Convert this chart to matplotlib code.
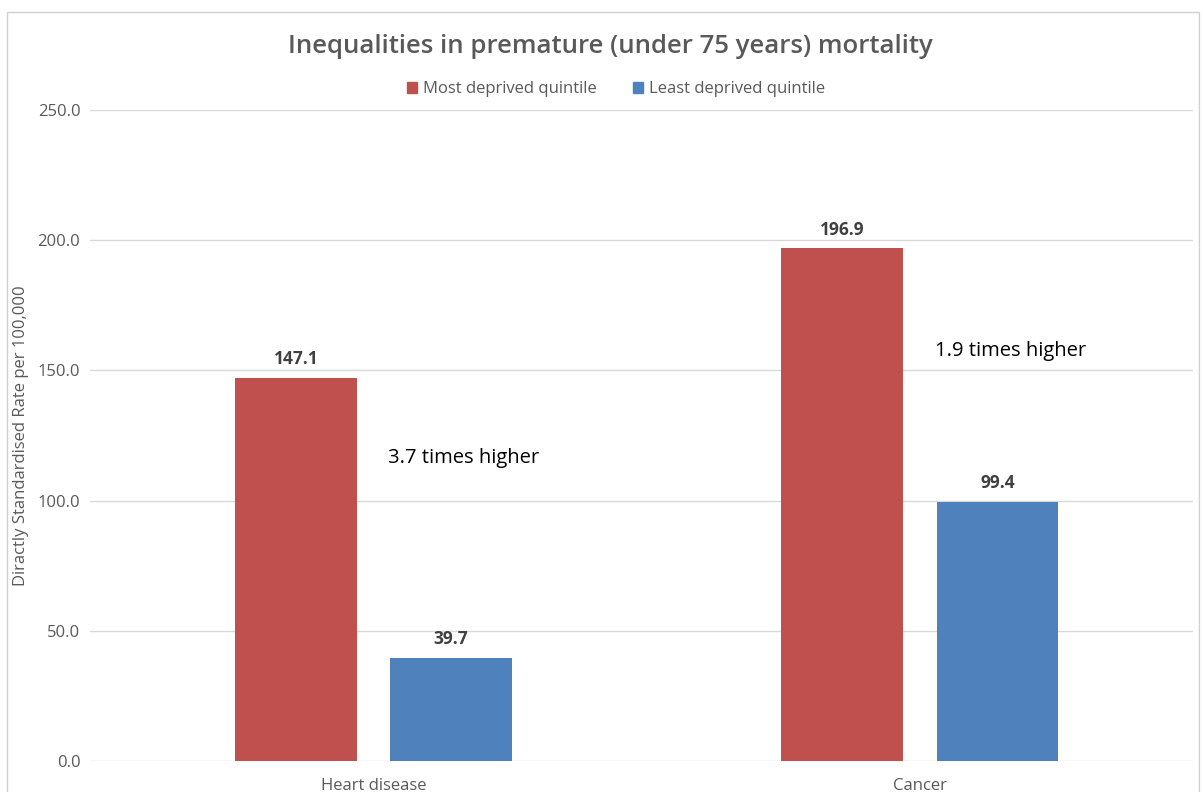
import matplotlib.pyplot as plt
from matplotlib.patches import Rectangle

categories = ["Heart disease", "Cancer"]
most_deprived = [147.1, 196.9]
least_deprived = [39.7, 99.4]
series_names = ["Most deprived quintile", "Least deprived quintile"]
ratio_notes = ["3.7 times higher", "1.9 times higher"]
note_y = [116.5, 157.5]
yticks = [0, 50, 100, 150, 200, 250]

red = "#C0504D"
blue = "#4F81BD"
grey = "#595959"

plt.rcParams['font.family'] = ['Open Sans', 'DejaVu Sans']

fig = plt.figure(figsize=(12.03, 7.92), dpi=100)
ax = fig.add_axes([0.0748, 0.0391, 0.917, 0.822])

# light frame around the chart, like the Excel chart area
fig.patches.append(Rectangle((0.006, -0.1), 0.991, 1.085, transform=fig.transFigure,
                             fill=False, edgecolor="#d0d0d0", linewidth=1))

x = list(range(len(categories)))
w = 0.223
off = 0.142
b1 = ax.bar([i - off for i in x], most_deprived, width=w, color=red, zorder=3)
b2 = ax.bar([i + off for i in x], least_deprived, width=w, color=blue, zorder=3)

for bars, vals in [(b1, most_deprived), (b2, least_deprived)]:
    for bar, v in zip(bars, vals):
        ax.annotate(f"{v:.1f}", (bar.get_x() + bar.get_width() / 2, v),
                    xytext=(0, 7), textcoords="offset points", ha="center", va="bottom",
                    fontsize=12.5, fontweight="bold", color="#404040")

for i, note in enumerate(ratio_notes):
    ax.text(i + 0.027, note_y[i], note, fontsize=14.5, color="black", va="center", ha="left")

ax.set_xlim(-0.519, 1.5)
ax.set_ylim(0, 250)
ax.set_yticks(yticks)
ax.set_yticklabels([f"{t:.1f}" for t in yticks], fontsize=12, color=grey)
ax.set_xticks(x)
ax.set_xticklabels(categories, fontsize=12, color=grey)
ax.tick_params(length=0, axis="y", pad=7)
ax.tick_params(length=0, axis="x", pad=12)
ax.grid(axis="y", color="#d9d9d9", linewidth=1, zorder=0)
for s in ax.spines.values():
    s.set_visible(False)

ax.set_ylabel("Diractly Standardised Rate per 100,000", fontsize=12, color=grey, labelpad=6)

fig.text(0.507, 0.941, "Inequalities in premature (under 75 years) mortality",
         ha="center", va="center", fontsize=18.5, fontweight="semibold", color=grey)

handles = [Rectangle((0, 0), 1, 1, color=red), Rectangle((0, 0), 1, 1, color=blue)]
fig.legend(handles, series_names, loc="center", bbox_to_anchor=(0.512, 0.887), ncol=2,
           frameon=False, fontsize=12, labelcolor=grey, handlelength=0.6, handleheight=0.6,
           handletextpad=0.35, columnspacing=2.2)

fig.savefig("out.png", dpi=100)
